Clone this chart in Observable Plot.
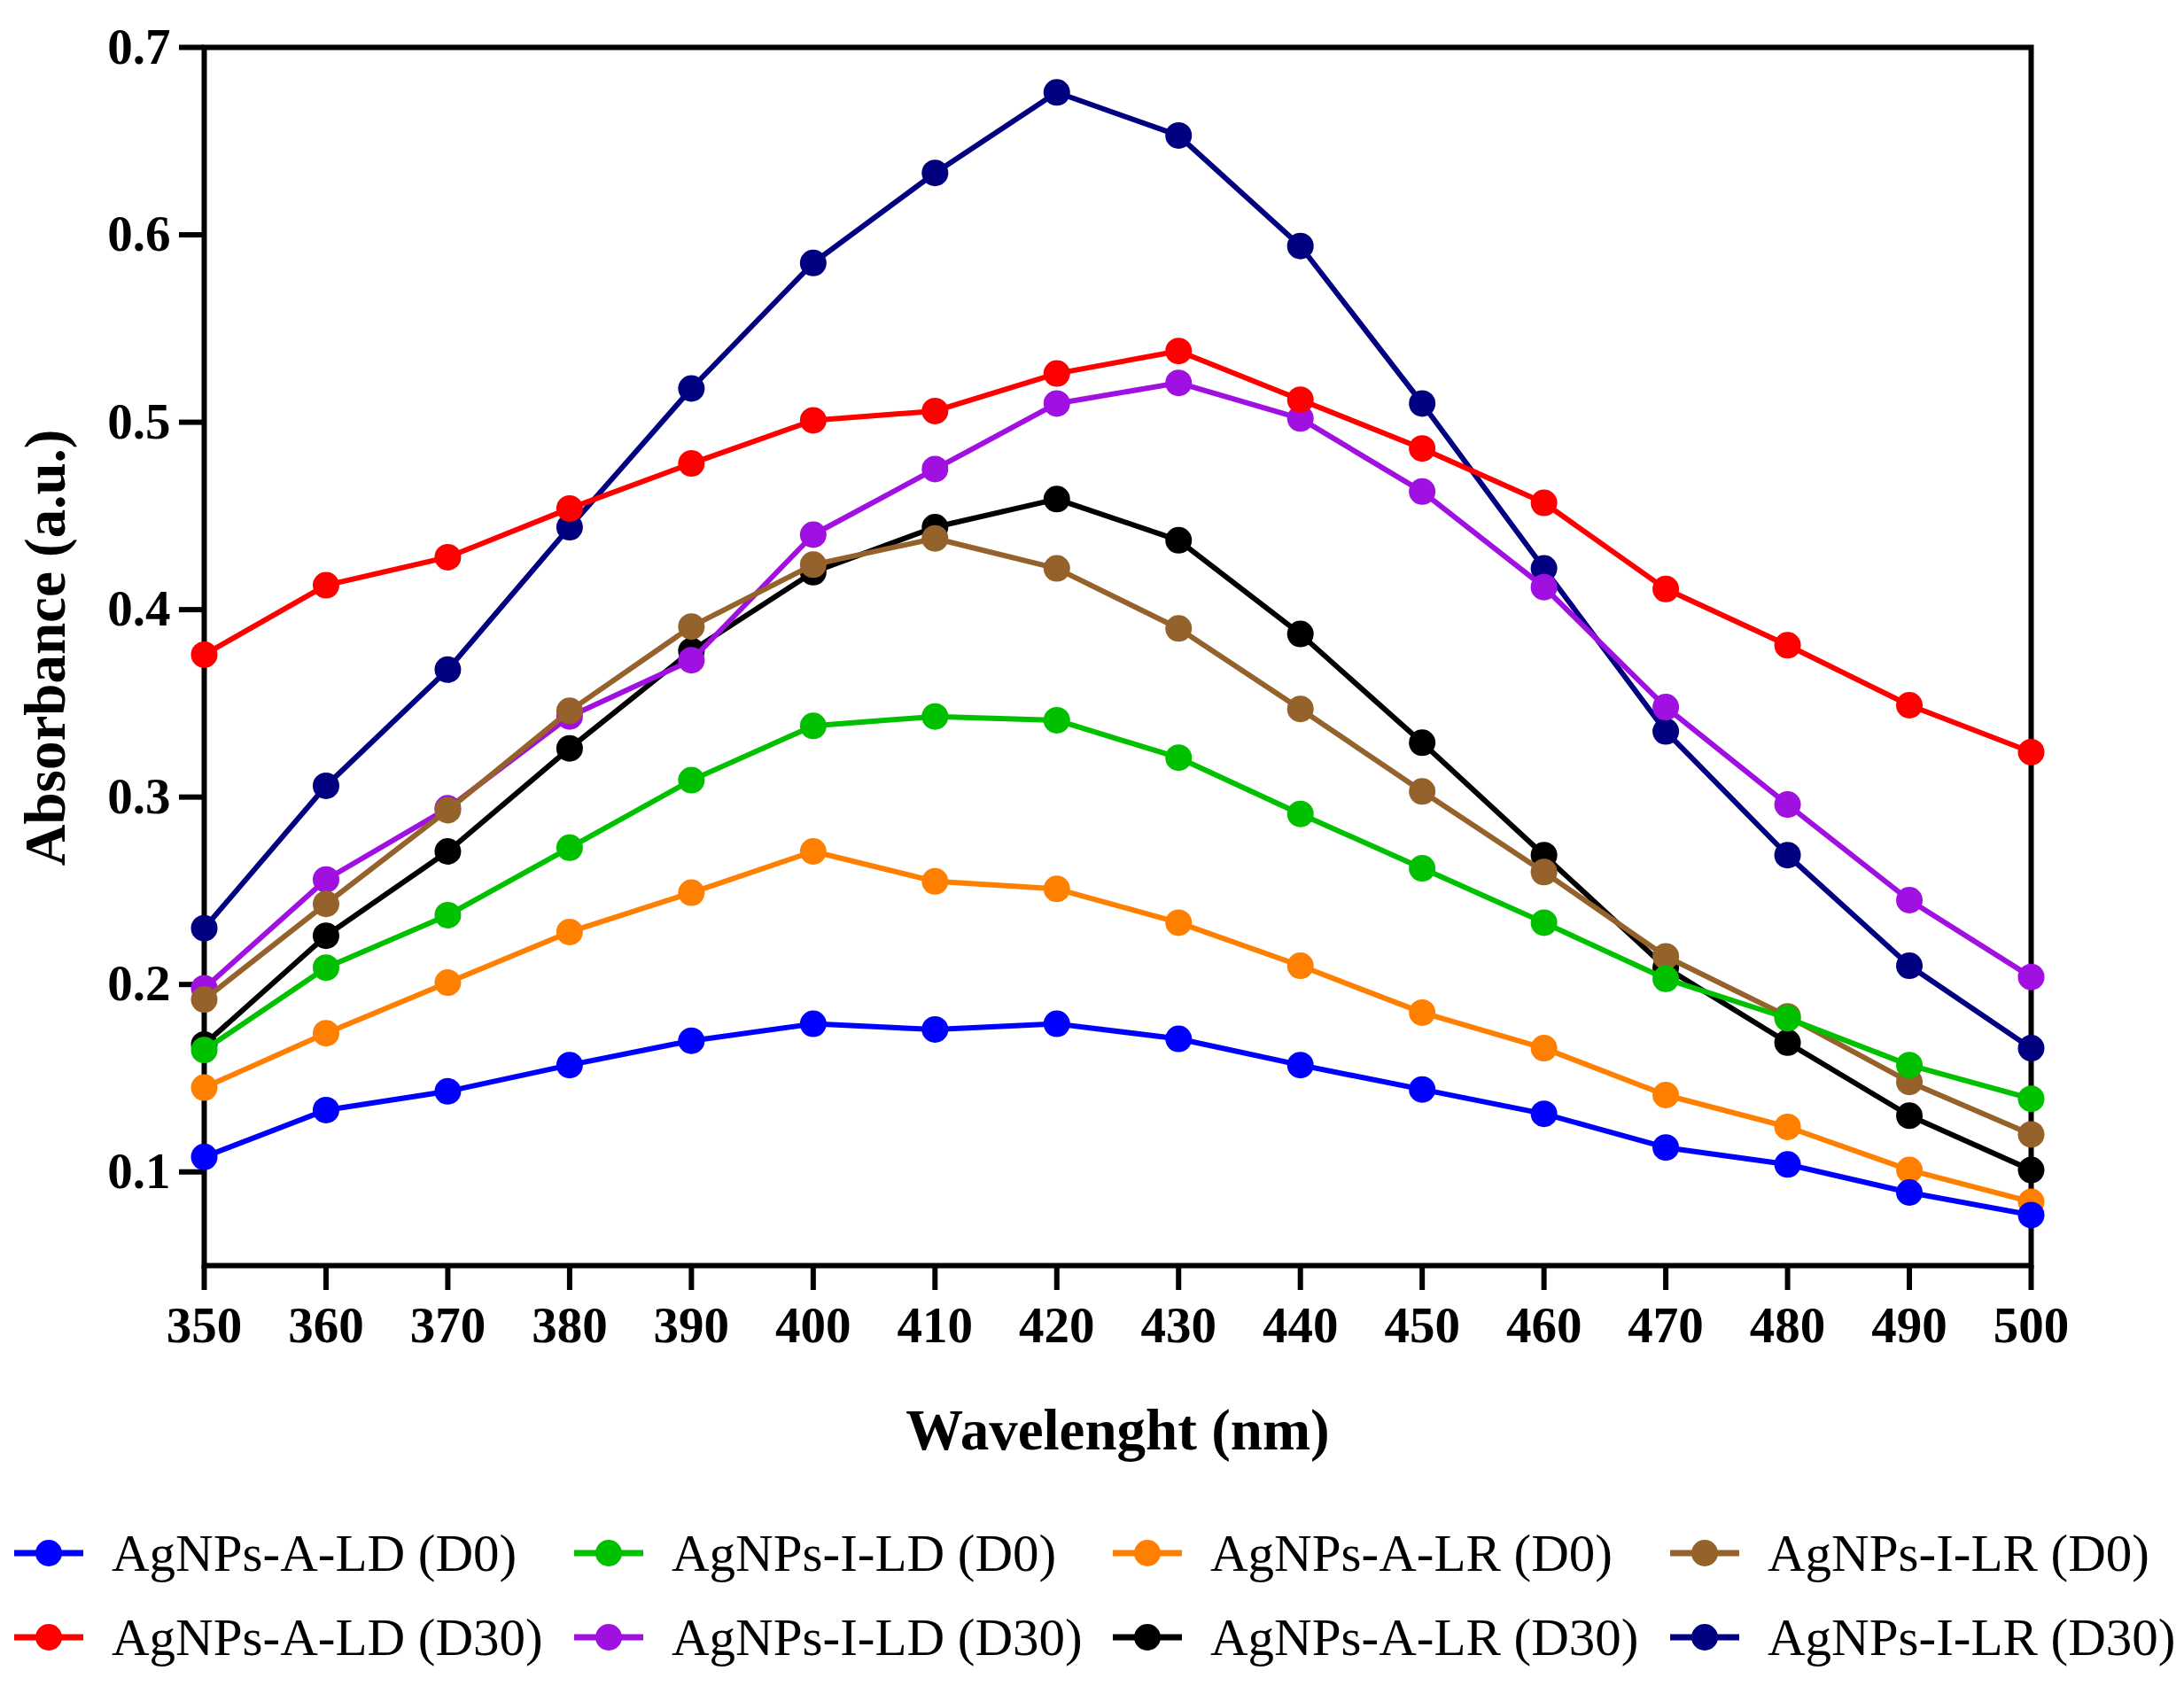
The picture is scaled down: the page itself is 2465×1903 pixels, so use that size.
<!DOCTYPE html>
<html>
<head>
<meta charset="utf-8">
<script src="https://cdn.jsdelivr.net/npm/d3@7"></script>
<script src="https://cdn.jsdelivr.net/npm/@observablehq/plot@0.6"></script>
<style>
  body { margin: 0; background: #fff; }
  #chart { width: 2465px; }
  #legend { position: relative; width: 2465px; height: 203px; font-family: "Liberation Serif", serif; font-size: 59px; color: #000; }
  .item { position: absolute; display: flex; align-items: center; white-space: nowrap; height: 70px; }
  .item svg { margin-right: 32px; }
</style>
</head>
<body>
<div id="chart"></div>
<div id="legend"></div>
<script>
// longueurs d'onde (nm) et ticks
const wavelengths = [350, 360, 370, 380, 390, 400, 410, 420, 430, 440, 450, 460, 470, 480, 490, 500];
const yTicks = [0.1, 0.2, 0.3, 0.4, 0.5, 0.6, 0.7];

const seriesNames = [
    "AgNPs-A-LD (D0)", "AgNPs-I-LD (D0)", "AgNPs-A-LR (D0)", "AgNPs-I-LR (D0)",
    "AgNPs-A-LD (D30)", "AgNPs-I-LD (D30)", "AgNPs-A-LR (D30)", "AgNPs-I-LR (D30)"
];
const seriesColors = ["#0000ff", "#00c000", "#ff8000", "#94622a", "#ff0000", "#a010e0", "#000000", "#000080"];

// absorbance
const aLD_D0  = [0.108, 0.133, 0.143, 0.157, 0.170, 0.179, 0.176, 0.179, 0.171, 0.157, 0.144, 0.131, 0.113, 0.104, 0.089, 0.077];
const iLD_D0  = [0.165, 0.209, 0.237, 0.273, 0.309, 0.338, 0.343, 0.341, 0.321, 0.291, 0.262, 0.233, 0.203, 0.182, 0.157, 0.139];
const aLR_D0  = [0.145, 0.174, 0.201, 0.228, 0.249, 0.271, 0.255, 0.251, 0.233, 0.210, 0.185, 0.166, 0.141, 0.124, 0.101, 0.084];
const iLR_D0  = [0.192, 0.243, 0.293, 0.346, 0.391, 0.424, 0.438, 0.422, 0.390, 0.347, 0.303, 0.260, 0.215, 0.183, 0.148, 0.120];
const aLD_D30 = [0.376, 0.413, 0.428, 0.454, 0.478, 0.501, 0.506, 0.526, 0.538, 0.512, 0.486, 0.457, 0.411, 0.381, 0.349, 0.324];
const iLD_D30 = [0.198, 0.256, 0.294, 0.343, 0.373, 0.440, 0.475, 0.510, 0.521, 0.502, 0.463, 0.412, 0.348, 0.296, 0.245, 0.204];
const aLR_D30 = [0.168, 0.226, 0.271, 0.326, 0.378, 0.420, 0.444, 0.459, 0.437, 0.387, 0.329, 0.269, 0.209, 0.169, 0.130, 0.101];
const iLR_D30 = [0.230, 0.306, 0.368, 0.444, 0.518, 0.585, 0.633, 0.676, 0.653, 0.594, 0.510, 0.422, 0.335, 0.269, 0.210, 0.166];

const seriesValues = [aLD_D0, iLD_D0, aLR_D0, iLR_D0, aLD_D30, iLD_D30, aLR_D30, iLR_D30];

const rows = [];
seriesValues.forEach((vals, i) => {
    vals.forEach((v, j) => rows.push({series: seriesNames[i], wl: wavelengths[j], abs: v}));
});

// la premiere serie est dessinee au-dessus
const seriesMarks = [];
for (let i = seriesNames.length - 1; i >= 0; i--) {
    const sub = rows.filter(d => d.series === seriesNames[i]);
    seriesMarks.push(Plot.line(sub, {x: "wl", y: "abs", stroke: "series", strokeWidth: 6}));
    seriesMarks.push(Plot.dot(sub, {x: "wl", y: "abs", fill: "series", r: 15}));
}

const plot = Plot.plot({
    width: 2465,
    height: 1700,
    marginLeft: 230,
    marginRight: 173,
    marginTop: 53,
    marginBottom: 272,
    style: {fontFamily: "Liberation Serif", background: "#fff", color: "#000"},
    x: {domain: [350, 500], label: null},
    y: {domain: [0.05, 0.7], label: null},
    color: {domain: seriesNames, range: seriesColors},
    marks: [
        Plot.frame({strokeWidth: 6}),
        Plot.axisX({ticks: wavelengths, tickSize: 28, tickPadding: 18, strokeWidth: 6,
            fontSize: 57, fontWeight: "bold", label: null}),
        Plot.axisY({ticks: yTicks, tickSize: 28, tickPadding: 10, strokeWidth: 6,
            fontSize: 57, fontWeight: "bold", label: null, tickFormat: d => d.toFixed(1)}),
        ...seriesMarks,
        Plot.text(["Wavelenght (nm)"], {frameAnchor: "bottom", dy: 187, lineAnchor: "middle",
            fontSize: 65, fontWeight: "bold"}),
        Plot.text(["Absorbance (a.u.)"], {frameAnchor: "left", dx: -178, dy: -10, rotate: -90,
            textAnchor: "middle", lineAnchor: "middle", fontSize: 65, fontWeight: "bold"})
    ]
});
document.getElementById("chart").appendChild(plot);

// legende 4 colonnes x 2 lignes
const legend = document.getElementById("legend");
const colLeft = [16, 648, 1256, 1885];
const rowTop = [18, 113];
seriesNames.forEach((name, i) => {
    const item = document.createElement("div");
    item.className = "item";
    item.style.left = colLeft[i % 4] + "px";
    item.style.top = rowTop[Math.floor(i / 4)] + "px";
    item.innerHTML = `<svg width="78" height="40"><line x1="0" x2="78" y1="20" y2="20" stroke="${seriesColors[i]}" stroke-width="7"/><circle cx="39" cy="20" r="15" fill="${seriesColors[i]}"/></svg><span>${name}</span>`;
    legend.appendChild(item);
});
</script>
</body>
</html>
